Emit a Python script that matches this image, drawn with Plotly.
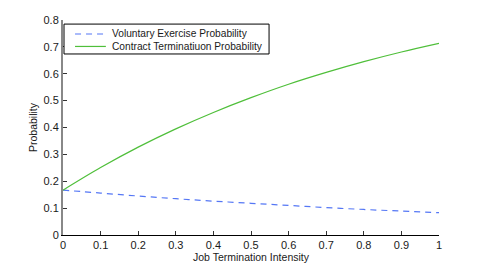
import plotly.graph_objects as go

x_vals = [0, 0.1, 0.2, 0.3, 0.4, 0.5, 0.6, 0.7, 0.8, 0.9, 1.0]
voluntary = [0.167, 0.156, 0.145, 0.135, 0.126, 0.118, 0.110, 0.102, 0.095, 0.089, 0.083]
termination = [0.167, 0.251, 0.327, 0.395, 0.456, 0.511, 0.561, 0.605, 0.645, 0.681, 0.713]
x_ticks = [0, 0.1, 0.2, 0.3, 0.4, 0.5, 0.6, 0.7, 0.8, 0.9, 1]
x_ticklabels = ["0", "0.1", "0.2", "0.3", "0.4", "0.5", "0.6", "0.7", "0.8", "0.9", "1"]
y_ticks = [0, 0.1, 0.2, 0.3, 0.4, 0.5, 0.6, 0.7, 0.8]
y_ticklabels = ["0", "0.1", "0.2", "0.3", "0.4", "0.5", "0.6", "0.7", "0.8"]
names = ["Voluntary Exercise Probability", "Contract Terminatiuon Probability"]

FAM = "Liberation Sans, Arial, sans-serif"
font = dict(family=FAM, size=10.5, color="#1a1a1a")
legend_font = dict(family=FAM, size=10.2, color="#1a1a1a")
tick_font = dict(family=FAM, size=11, color="#1a1a1a")
blue = "#5577f5"
green = "#4fbf3a"
blue_dash = "6px,5px"

fig = go.Figure()
fig.add_trace(go.Scatter(x=x_vals, y=voluntary, mode="lines", line_shape="spline",
                         name=names[0], line=dict(color=blue, width=1.2, dash=blue_dash)))
fig.add_trace(go.Scatter(x=x_vals, y=termination, mode="lines", line_shape="spline",
                         name=names[1], line=dict(color=green, width=1.2)))

# compact MATLAB-style legend built from shapes + annotations
lx0, lx1, ly0, ly1 = 0.0027, 0.548, 0.842, 0.981
rows = [0.935, 0.877]
styles = [dict(color=blue, width=1.2, dash=blue_dash), dict(color=green, width=1.2)]
shapes = [dict(type="rect", xref="paper", yref="paper", x0=lx0, x1=lx1, y0=ly0, y1=ly1,
               line=dict(color="black", width=1), fillcolor="white", layer="above")]
annotations = []
for ry, st, nm in zip(rows, styles, names):
    shapes.append(dict(type="line", xref="paper", yref="paper", x0=0.032, x1=0.114,
                       y0=ry, y1=ry, line=st, layer="above"))
    annotations.append(dict(xref="paper", yref="paper", x=0.124, y=ry, text=nm,
                            showarrow=False, xanchor="left", yanchor="middle", font=legend_font))

fig.update_layout(
    width=485, height=265,
    margin=dict(l=63, r=46, t=20, b=30, autoexpand=False),
    paper_bgcolor="white", plot_bgcolor="white",
    font=font,
    showlegend=False,
    shapes=shapes,
    annotations=annotations,
    xaxis=dict(range=[0, 1], tickvals=x_ticks, ticktext=x_ticklabels, tickfont=tick_font,
               ticks="inside", ticklen=4, tickcolor="#333",
               showline=True, linecolor="black", linewidth=1,
               showgrid=False, zeroline=False, automargin=False,
               title=dict(text="Job Termination Intensity", standoff=2, font=font)),
    yaxis=dict(range=[0, 0.8], tickvals=y_ticks, ticktext=y_ticklabels, tickfont=tick_font,
               ticks="inside", ticklen=4, tickcolor="#333",
               showline=True, linecolor="#888", linewidth=2,
               showgrid=False, zeroline=False, automargin=False,
               title=dict(text="Probability", standoff=4, font=font)),
    xaxis2=dict(range=[0, 1], matches="x", overlaying="x", side="top",
                tickvals=x_ticks, showticklabels=False, ticks="inside", ticklen=4,
                tickcolor="#555", showline=True, linecolor="#888", linewidth=1,
                showgrid=False, zeroline=False, automargin=False),
    yaxis2=dict(range=[0, 0.8], matches="y", overlaying="y", side="right",
                tickvals=y_ticks, showticklabels=False, ticks="inside", ticklen=4,
                tickcolor="#555", showline=True, linecolor="#888", linewidth=1,
                showgrid=False, zeroline=False, automargin=False),
)

fig.write_html("out.html", config={"displayModeBar": False},
               post_script="document.body.style.margin='0px';document.body.style.overflow='hidden';")
